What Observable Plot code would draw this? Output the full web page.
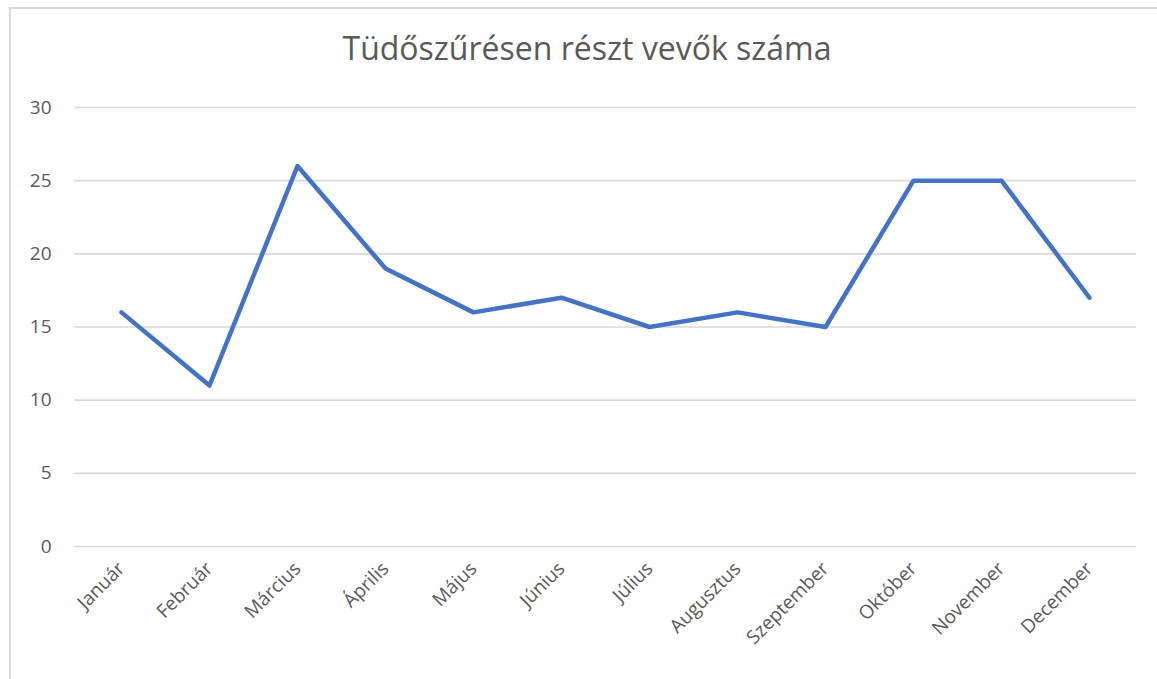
<!DOCTYPE html>
<html>
<head>
<meta charset="utf-8">
<script src="https://cdn.jsdelivr.net/npm/d3@7"></script>
<script src="https://cdn.jsdelivr.net/npm/@observablehq/plot@0.6"></script>
<style>
  html, body { margin: 0; padding: 0; background: #fff; }
  #wrap { position: relative; width: 1157px; height: 679px; overflow: hidden; font-family: "Open Sans", sans-serif; }
  #frame { position: absolute; left: 9px; top: 7px; width: 1200px; height: 700px; border-left: 2px solid #d9d9d9; border-top: 2px solid #d9d9d9; }
  #title { position: absolute; left: 0; width: 1174px; top: 26px; text-align: center; font-size: 32px; color: #595959; white-space: nowrap; }
  #chart { position: absolute; left: 0; top: 0; }
</style>
</head>
<body>
<div id="wrap">
  <div id="frame"></div>
  <div id="title">Tüdőszűrésen részt vevők száma</div>
  <div id="chart"></div>
</div>
<script>
const months = ["Január", "Február", "Március", "Április", "Május", "Június", "Július", "Augusztus", "Szeptember", "Október", "November", "December"];
const values = [16, 11, 26, 19, 16, 17, 15, 16, 15, 25, 25, 17];
const yTicks = [0, 5, 10, 15, 20, 25, 30];

const data = months.map((m, i) => ({month: m, value: values[i]}));

const plot = Plot.plot({
  width: 1157,
  height: 679,
  marginLeft: 74,
  marginRight: 21,
  marginTop: 107,
  marginBottom: 133,
  style: {background: "transparent", fontFamily: "Open Sans, sans-serif", color: "#595959", overflow: "visible"},
  x: {type: "point", domain: months, padding: 0.5},
  y: {domain: [0, 30]},
  marks: [
    Plot.ruleY(yTicks, {stroke: "#d9d9d9", strokeWidth: 1.6, strokeOpacity: 1}),
    Plot.axisY(yTicks, {tickSize: 0, tickPadding: 23, fontSize: 19, fill: "#595959", label: null}),
    Plot.axisX({tickSize: 0, tickRotate: -45, tickPadding: 19, fontSize: 19, fill: "#595959", label: null}),
    Plot.line(data, {x: "month", y: "value", stroke: "#4472C4", strokeWidth: 4.5, strokeLinejoin: "round", strokeLinecap: "round"})
  ]
});
document.getElementById("chart").appendChild(plot);
</script>
</body>
</html>
